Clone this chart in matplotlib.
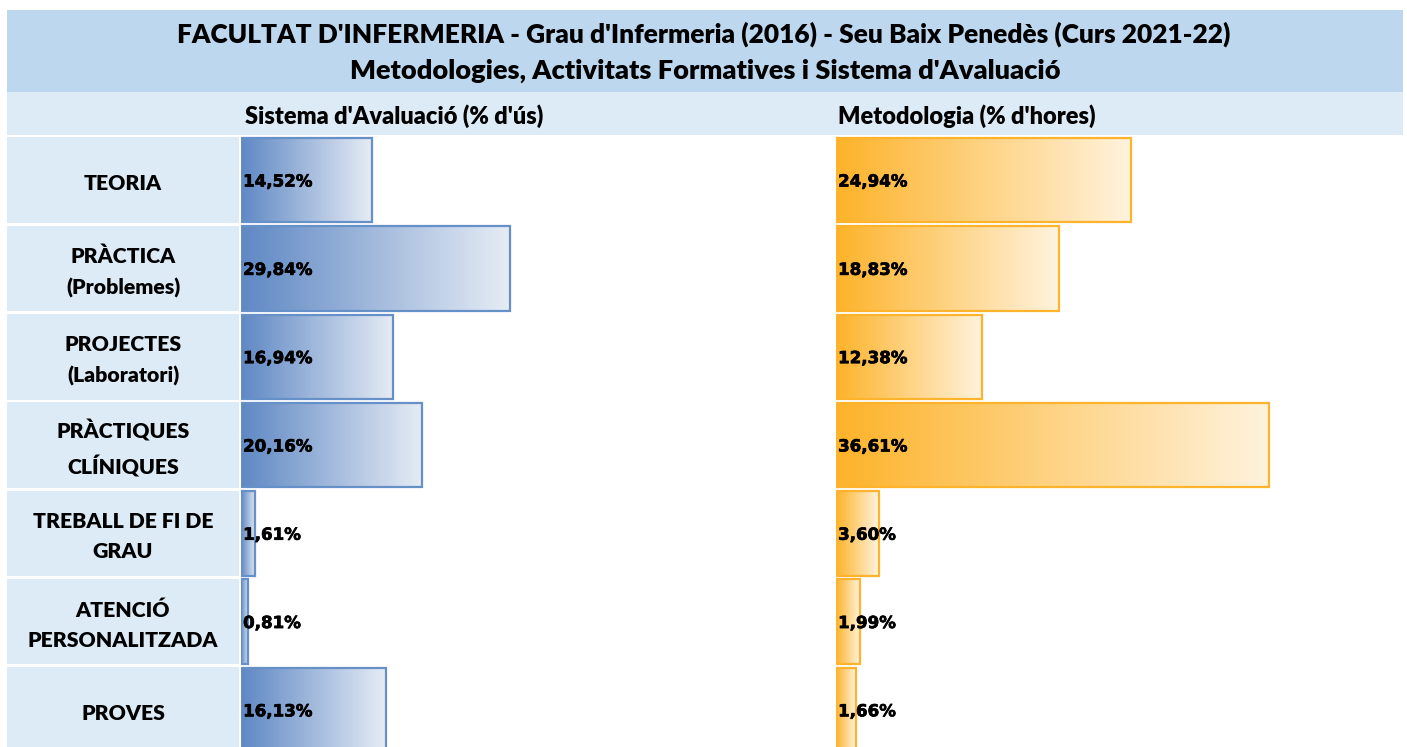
import numpy as np
import matplotlib.pyplot as plt
import matplotlib.patheffects as pe
from matplotlib.colors import LinearSegmentedColormap
from matplotlib.patches import Rectangle

# data
categories = ["TEORIA", "PRÀCTICA\n(Problemes)", "PROJECTES\n(Laboratori)",
              "PRÀCTIQUES\nCLÍNIQUES", "TREBALL DE FI DE\nGRAU",
              "ATENCIÓ\nPERSONALITZADA", "PROVES"]
avaluacio = [14.52, 29.84, 16.94, 20.16, 1.61, 0.81, 16.13]
metodologia = [24.94, 18.83, 12.38, 36.61, 3.60, 1.99, 1.66]

title_1 = "FACULTAT D'INFERMERIA - Grau d'Infermeria (2016) - Seu Baix Penedès (Curs 2021-22)"
title_2 = "Metodologies, Activitats Formatives i Sistema d'Avaluació"
head_left = "Sistema d'Avaluació (% d'ús)"
head_right = "Metodologia (% d'hores)"

W, H = 1407, 747
HEAD_FONT = ["Lato", "DejaVu Sans"]
VAL_FONT = "DejaVu Sans"

fig = plt.figure(figsize=(W / 100, H / 100), dpi=100)


def px_axes(x0, y0, x1, y1):
    # axes placed by pixel box (top-left origin)
    return fig.add_axes([x0 / W, 1 - y1 / H, (x1 - x0) / W, (y1 - y0) / H])


# background / header bands in pixel coordinates
bg = px_axes(0, 0, W, H)
bg.set_xlim(0, W)
bg.set_ylim(H, 0)
bg.axis('off')
bg.add_patch(Rectangle((7, 10), 1396, 82, color='#BDD7EE', lw=0))
bg.add_patch(Rectangle((7, 92), 1396, 43, color='#DDEBF7', lw=0))
bg.text(704, 34, title_1, ha='center', va='center', fontsize=18.95,
        fontweight='heavy', family=HEAD_FONT)
bg.text(705, 71, title_2, ha='center', va='center', fontsize=19.5,
        fontweight='heavy', family=HEAD_FONT)
bg.text(245, 116, head_left, ha='left', va='center', fontsize=16.95,
        fontweight='heavy', family=HEAD_FONT)
bg.text(838, 116, head_right, ha='left', va='center', fontsize=16.95,
        fontweight='heavy', family=HEAD_FONT)

n = len(categories)
y = np.arange(n)
ylim = (-0.5 + 611 / 88.3, -0.5)

# label column
lab = px_axes(7, 136, 239, H)
lab.set_xlim(0, 1)
lab.set_ylim(*ylim)
lab.axis('off')
for i, name in enumerate(categories):
    lab.add_patch(Rectangle((0, i - 0.485), 1, 0.97, color='#DDEBF7', lw=0))
    lab.text(0.5, i + 0.04, name, ha='center', va='center', fontsize=15.3,
             fontweight='heavy', family=HEAD_FONT, linespacing=1.7)

cmap_blue = LinearSegmentedColormap.from_list('b', ['#5F88C4', '#E6ECF5'])
cmap_orange = LinearSegmentedColormap.from_list('o', ['#FDB32A', '#FFF3DE'])
thick = [pe.withStroke(linewidth=0.5, foreground='black')]


def draw_panel(ax, values, cmap, edge, xmax):
    ax.set_xlim(0, xmax)
    ax.set_ylim(*ylim)
    ax.axis('off')
    bars = ax.barh(y, values, height=0.955, color='none', edgecolor=edge,
                   linewidth=1.6, zorder=3)
    grad = np.linspace(0, 1, 256).reshape(1, -1)
    for bar, v in zip(bars, values):
        x0, y0 = bar.get_x(), bar.get_y()
        w, h = bar.get_width(), bar.get_height()
        im = ax.imshow(grad, cmap=cmap, aspect='auto', zorder=2,
                       extent=(x0, x0 + w, y0 + h, y0), interpolation='bicubic')
        im.set_clip_path(bar)
        ax.annotate(f"{v:.2f}%".replace('.', ','), (0, bar.get_y() + h / 2),
                    xytext=(1.5, -1), textcoords='offset points', ha='left',
                    va='center', fontsize=12, fontweight='bold',
                    fontfamily=VAL_FONT, zorder=4, path_effects=thick)
    ax.set_xlim(0, xmax)
    ax.set_ylim(*ylim)


ax_l = px_axes(241, 136, 826, H)
draw_panel(ax_l, avaluacio, cmap_blue, '#6690C8', 585 / 9.0)
ax_r = px_axes(836, 136, 1403, H)
draw_panel(ax_r, metodologia, cmap_orange, '#FDB32C', 567 / 11.83)

fig.savefig('out.png', dpi=100)
